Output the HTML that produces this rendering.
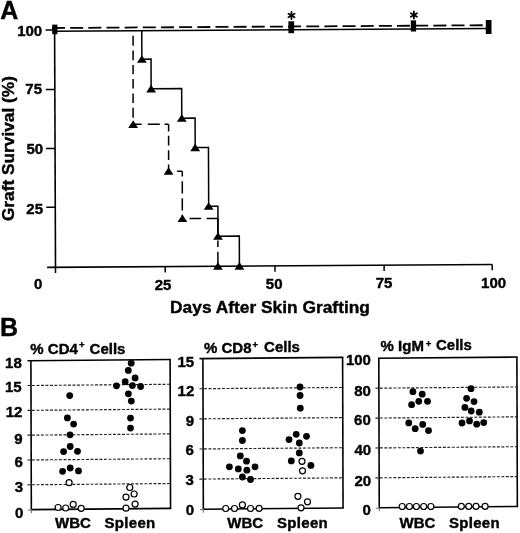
<!DOCTYPE html>
<html><head><meta charset="utf-8"><style>
html,body{margin:0;padding:0;background:#fff;}
svg{display:block;}
text{font-family:"Liberation Sans", sans-serif;font-weight:bold;fill:#000;stroke:#000;stroke-width:0.4px;}
line,polyline{stroke:#000;}
</style></head><body>
<svg width="520" height="533" viewBox="0 0 520 533" fill="#000">
<defs><filter id="soft" x="0" y="0" width="100%" height="100%" filterUnits="userSpaceOnUse"><feGaussianBlur stdDeviation="0.3"/></filter></defs>
<rect x="0" y="0" width="520" height="533" fill="#fff" stroke="none"/>
<g filter="url(#soft)">
<line x1="54.6" y1="30" x2="55.5" y2="267.3" stroke-width="1.6" />
<line x1="47.1" y1="267.35" x2="492.2" y2="264.51" stroke-width="1.6" />
<line x1="46.27" y1="207.31" x2="55.27" y2="207.25" stroke-width="1.5" />
<line x1="46.05" y1="148.56" x2="55.05" y2="148.5" stroke-width="1.5" />
<line x1="45.82" y1="89.46" x2="54.82" y2="89.4" stroke-width="1.5" />
<line x1="45.6" y1="30.06" x2="54.6" y2="30" stroke-width="1.5" />
<line x1="55.5" y1="267.3" x2="55.52" y2="273.1" stroke-width="1.5" />
<line x1="165.2" y1="266.6" x2="165.22" y2="272.4" stroke-width="1.5" />
<line x1="275" y1="265.9" x2="275.02" y2="271.7" stroke-width="1.5" />
<line x1="384.1" y1="265.2" x2="384.12" y2="271" stroke-width="1.5" />
<line x1="492.2" y1="264.51" x2="492.22" y2="270.31" stroke-width="1.5" />
<line x1="54.6" y1="31.2" x2="489.57" y2="28.42" stroke-width="1.5" />
<line x1="52" y1="28.02" x2="489.56" y2="25.22" stroke-width="1.8" stroke-dasharray="13 5.16"/>
<polyline points="141.75,30.64 141.86,59.14 151.03,59.08 151.14,88.78 181.65,88.59 181.77,118.14 195.07,118.05 195.19,147.6 208.45,147.52 208.67,206.27 217.9,206.21 218.01,236.23 239.31,236.1 239.42,266.12" fill="none" stroke-width="1.5" />
<path d="M141.86,55.14 L146.76,62.74 L136.96,62.74 Z"/>
<path d="M151.14,84.78 L156.04,92.38 L146.24,92.38 Z"/>
<path d="M181.77,114.14 L186.67,121.74 L176.87,121.74 Z"/>
<path d="M195.19,143.6 L200.09,151.2 L190.29,151.2 Z"/>
<path d="M208.67,202.27 L213.57,209.87 L203.77,209.87 Z"/>
<path d="M218.01,232.23 L222.91,239.83 L213.11,239.83 Z"/>
<path d="M239.42,262.12 L244.32,269.72 L234.52,269.72 Z"/>
<path d="M133.1,35.8V45.8M133.1,50.4V60.2M133.1,65V74.2M133.1,79V88.6M133.1,93.4V102.9M133.1,107.8V117.8M133.1,124.3H141.7M147.7,124.3H159.8M164.6,124.3H168.6M168.6,124.3V131.4M168.6,135.8V145.5M168.6,150.2V160M168.6,164.5V171.2M177.1,171.2H182.3M182.3,171.2V176.6M182.3,181.3V193.4M182.3,198.2V210.4M182.3,214.8V218.5M182.3,218.6H184M189.5,218.6H201.1M206.6,218.6H217.9M217.9,218.6V236M217.9,240.5V247M217.9,251.8V266.2" fill="none" stroke="#000" stroke-width="1.5"/>
<path d="M133.15,120.36 L138.05,127.96 L128.25,127.96 Z"/>
<path d="M168.57,167.27 L173.47,174.87 L163.67,174.87 Z"/>
<path d="M182.41,214.45 L187.31,222.05 L177.51,222.05 Z"/>
<path d="M217.95,262.26 L222.85,269.86 L213.05,269.86 Z"/>
<rect x="52.2" y="24.6" width="5.2" height="9.6"/>
<rect x="288.4" y="21.3" width="5.7" height="11.9"/>
<rect x="410.8" y="20.4" width="5.3" height="11.1"/>
<rect x="485.8" y="20" width="5.7" height="14"/>
<line x1="291.5" y1="12" x2="291.5" y2="19" stroke-width="1.8" stroke-linecap="round"/>
<line x1="288.47" y1="13.75" x2="294.53" y2="17.25" stroke-width="1.8" stroke-linecap="round"/>
<line x1="288.47" y1="17.25" x2="294.53" y2="13.75" stroke-width="1.8" stroke-linecap="round"/>
<line x1="413.9" y1="11.5" x2="413.9" y2="18.5" stroke-width="1.8" stroke-linecap="round"/>
<line x1="410.87" y1="13.25" x2="416.93" y2="16.75" stroke-width="1.8" stroke-linecap="round"/>
<line x1="410.87" y1="16.75" x2="416.93" y2="13.25" stroke-width="1.8" stroke-linecap="round"/>
<text x="0.3" y="18.73" font-size="25" >A</text>
<text x="17.2" y="35.95" font-size="15" >100</text>
<text x="25.35" y="94.47" font-size="15" >75</text>
<text x="26.45" y="154.27" font-size="15" >50</text>
<text x="26.35" y="213.52" font-size="15" >25</text>
<text x="34.02" y="288.57" font-size="15" >0</text>
<text x="154.78" y="289.57" font-size="15" >25</text>
<text x="265.82" y="289" font-size="15" >50</text>
<text x="375.68" y="288.23" font-size="15" >75</text>
<text x="481.1" y="287.52" font-size="15" >100</text>
<text x="170.1" y="312.9" font-size="17.35">Days After Skin Grafting</text>
<text transform="translate(13.9,221.1) rotate(-90)" font-size="17.3">Graft Survival (%)</text>
<line x1="30.9" y1="360.7" x2="31.35" y2="509.6" stroke-width="1.6" />
<line x1="170.1" y1="359.45" x2="170.54" y2="508.35" stroke-width="1.6" />
<line x1="27.5" y1="360.73" x2="170.8" y2="359.45" stroke-width="1.6" />
<line x1="31.35" y1="509.6" x2="171.24" y2="508.35" stroke-width="1.6" />
<line x1="27.95" y1="510.13" x2="31.35" y2="510.1" stroke-width="1.0" style="stroke:#666"/>
<line x1="31.35" y1="509.6" x2="31.36" y2="513.1" stroke-width="1.0" style="stroke:#666"/>
<line x1="27.5" y1="385.55" x2="170.17" y2="384.26" stroke-width="1.15" style="stroke:#222" stroke-dasharray="2.9 1.6"/>
<line x1="27.5" y1="410.36" x2="170.25" y2="409.08" stroke-width="1.15" style="stroke:#222" stroke-dasharray="2.9 1.6"/>
<line x1="27.5" y1="435.18" x2="170.32" y2="433.9" stroke-width="1.15" style="stroke:#222" stroke-dasharray="2.9 1.6"/>
<line x1="27.5" y1="460" x2="170.39" y2="458.71" stroke-width="1.15" style="stroke:#222" stroke-dasharray="2.9 1.6"/>
<line x1="27.5" y1="484.81" x2="170.47" y2="483.53" stroke-width="1.15" style="stroke:#222" stroke-dasharray="2.9 1.6"/>
<line x1="202.9" y1="358.6" x2="203.35" y2="509.2" stroke-width="1.6" />
<line x1="342.6" y1="357.34" x2="343.05" y2="507.94" stroke-width="1.6" />
<line x1="199.5" y1="358.63" x2="343.3" y2="357.34" stroke-width="1.6" />
<line x1="203.35" y1="509.2" x2="343.75" y2="507.94" stroke-width="1.6" />
<line x1="199.95" y1="509.73" x2="203.35" y2="509.7" stroke-width="1.0" style="stroke:#666"/>
<line x1="203.35" y1="509.2" x2="203.36" y2="512.7" stroke-width="1.0" style="stroke:#666"/>
<line x1="199.5" y1="388.75" x2="342.69" y2="387.46" stroke-width="1.15" style="stroke:#222" stroke-dasharray="2.9 1.6"/>
<line x1="199.5" y1="418.87" x2="342.78" y2="417.58" stroke-width="1.15" style="stroke:#222" stroke-dasharray="2.9 1.6"/>
<line x1="199.5" y1="448.99" x2="342.87" y2="447.7" stroke-width="1.15" style="stroke:#222" stroke-dasharray="2.9 1.6"/>
<line x1="199.5" y1="479.11" x2="342.96" y2="477.82" stroke-width="1.15" style="stroke:#222" stroke-dasharray="2.9 1.6"/>
<line x1="378.8" y1="358.3" x2="379.25" y2="507.7" stroke-width="1.6" />
<line x1="516.9" y1="357.06" x2="517.34" y2="506.46" stroke-width="1.6" />
<line x1="378" y1="358.31" x2="517.6" y2="357.06" stroke-width="1.6" />
<line x1="379.25" y1="507.7" x2="518.04" y2="506.46" stroke-width="1.6" />
<line x1="375.85" y1="508.23" x2="379.25" y2="508.2" stroke-width="1.0" style="stroke:#666"/>
<line x1="379.25" y1="507.7" x2="379.26" y2="511.2" stroke-width="1.0" style="stroke:#666"/>
<line x1="375.4" y1="388.21" x2="516.99" y2="386.94" stroke-width="1.15" style="stroke:#222" stroke-dasharray="2.9 1.6"/>
<line x1="375.4" y1="418.09" x2="517.08" y2="416.82" stroke-width="1.15" style="stroke:#222" stroke-dasharray="2.9 1.6"/>
<line x1="375.4" y1="447.97" x2="517.17" y2="446.69" stroke-width="1.15" style="stroke:#222" stroke-dasharray="2.9 1.6"/>
<line x1="375.4" y1="477.85" x2="517.25" y2="476.57" stroke-width="1.15" style="stroke:#222" stroke-dasharray="2.9 1.6"/>
<circle cx="69.7" cy="395.6" r="3.4"/>
<circle cx="67.4" cy="417.9" r="3.4"/>
<circle cx="73.6" cy="424.1" r="3.4"/>
<circle cx="70" cy="434.8" r="3.4"/>
<circle cx="70.2" cy="446.5" r="3.4"/>
<circle cx="63.6" cy="451.6" r="3.4"/>
<circle cx="77.5" cy="451.3" r="3.4"/>
<circle cx="70.2" cy="468" r="3.4"/>
<circle cx="62.6" cy="471.3" r="3.4"/>
<circle cx="78.5" cy="470.9" r="3.4"/>
<circle cx="131.2" cy="363.2" r="3.4"/>
<circle cx="128.3" cy="370.4" r="3.4"/>
<circle cx="135.1" cy="377.9" r="3.4"/>
<circle cx="125.2" cy="381.7" r="3.4"/>
<circle cx="116.5" cy="385.8" r="3.4"/>
<circle cx="132.4" cy="385.6" r="3.4"/>
<circle cx="140.6" cy="386.5" r="3.4"/>
<circle cx="128.4" cy="393.8" r="3.4"/>
<circle cx="131.3" cy="401.1" r="3.4"/>
<circle cx="130.5" cy="418.1" r="3.4"/>
<circle cx="130.5" cy="428.1" r="3.4"/>
<circle cx="242.4" cy="430.6" r="3.4"/>
<circle cx="242.4" cy="440.5" r="3.4"/>
<circle cx="240.3" cy="455.9" r="3.4"/>
<circle cx="246.5" cy="461.2" r="3.4"/>
<circle cx="229.4" cy="466.8" r="3.4"/>
<circle cx="255" cy="466.8" r="3.4"/>
<circle cx="238.3" cy="468.9" r="3.4"/>
<circle cx="246.9" cy="470.2" r="3.4"/>
<circle cx="242.4" cy="477" r="3.4"/>
<circle cx="250.5" cy="479.5" r="3.4"/>
<circle cx="300" cy="387" r="3.4"/>
<circle cx="300.1" cy="395.5" r="3.4"/>
<circle cx="300.3" cy="408.2" r="3.4"/>
<circle cx="296.2" cy="434.3" r="3.4"/>
<circle cx="306.5" cy="436.3" r="3.4"/>
<circle cx="289" cy="439.6" r="3.4"/>
<circle cx="299.3" cy="443" r="3.4"/>
<circle cx="299.3" cy="452.9" r="3.4"/>
<circle cx="291.3" cy="460.9" r="3.4"/>
<circle cx="310.9" cy="465.4" r="3.4"/>
<circle cx="412.9" cy="391.7" r="3.4"/>
<circle cx="422.2" cy="394.2" r="3.4"/>
<circle cx="418.8" cy="401.3" r="3.4"/>
<circle cx="427.5" cy="401.3" r="3.4"/>
<circle cx="411.6" cy="404.7" r="3.4"/>
<circle cx="408.75" cy="422.9" r="3.4"/>
<circle cx="422.7" cy="424.4" r="3.4"/>
<circle cx="415.2" cy="428.7" r="3.4"/>
<circle cx="428.5" cy="430.6" r="3.4"/>
<circle cx="420.5" cy="451.1" r="3.4"/>
<circle cx="471" cy="388.7" r="3.4"/>
<circle cx="466.6" cy="398.3" r="3.4"/>
<circle cx="474" cy="401.6" r="3.4"/>
<circle cx="464.9" cy="407.4" r="3.4"/>
<circle cx="471.2" cy="411" r="3.4"/>
<circle cx="479.3" cy="412.2" r="3.4"/>
<circle cx="462" cy="423" r="3.4"/>
<circle cx="469.5" cy="420.9" r="3.4"/>
<circle cx="476.7" cy="424.2" r="3.4"/>
<circle cx="483.7" cy="422.6" r="3.4"/>
<circle cx="69.1" cy="482.7" r="3.0" fill="#fff" stroke="#000" stroke-width="1.2"/>
<circle cx="58.1" cy="507.5" r="3.0" fill="#fff" stroke="#000" stroke-width="1.2"/>
<circle cx="65.7" cy="508" r="3.0" fill="#fff" stroke="#000" stroke-width="1.2"/>
<circle cx="73.2" cy="504.4" r="3.0" fill="#fff" stroke="#000" stroke-width="1.2"/>
<circle cx="81.2" cy="508.3" r="3.0" fill="#fff" stroke="#000" stroke-width="1.2"/>
<circle cx="129.8" cy="487.5" r="3.0" fill="#fff" stroke="#000" stroke-width="1.2"/>
<circle cx="134.1" cy="494" r="3.0" fill="#fff" stroke="#000" stroke-width="1.2"/>
<circle cx="126" cy="497.1" r="3.0" fill="#fff" stroke="#000" stroke-width="1.2"/>
<circle cx="135.1" cy="504.1" r="3.0" fill="#fff" stroke="#000" stroke-width="1.2"/>
<circle cx="126" cy="508.2" r="3.0" fill="#fff" stroke="#000" stroke-width="1.2"/>
<circle cx="225.7" cy="508.5" r="3.0" fill="#fff" stroke="#000" stroke-width="1.2"/>
<circle cx="234.5" cy="508.5" r="3.0" fill="#fff" stroke="#000" stroke-width="1.2"/>
<circle cx="242.4" cy="504.9" r="3.0" fill="#fff" stroke="#000" stroke-width="1.2"/>
<circle cx="250.5" cy="508.5" r="3.0" fill="#fff" stroke="#000" stroke-width="1.2"/>
<circle cx="259.1" cy="508.3" r="3.0" fill="#fff" stroke="#000" stroke-width="1.2"/>
<circle cx="302" cy="461.3" r="3.0" fill="#fff" stroke="#000" stroke-width="1.2"/>
<circle cx="302.5" cy="470.8" r="3.0" fill="#fff" stroke="#000" stroke-width="1.2"/>
<circle cx="297.9" cy="496.3" r="3.0" fill="#fff" stroke="#000" stroke-width="1.2"/>
<circle cx="307.5" cy="501.8" r="3.0" fill="#fff" stroke="#000" stroke-width="1.2"/>
<circle cx="301" cy="507.8" r="3.0" fill="#fff" stroke="#000" stroke-width="1.2"/>
<circle cx="402.2" cy="506.5" r="3.0" fill="#fff" stroke="#000" stroke-width="1.2"/>
<circle cx="409.4" cy="506.5" r="3.0" fill="#fff" stroke="#000" stroke-width="1.2"/>
<circle cx="416.4" cy="506.5" r="3.0" fill="#fff" stroke="#000" stroke-width="1.2"/>
<circle cx="423.7" cy="506.5" r="3.0" fill="#fff" stroke="#000" stroke-width="1.2"/>
<circle cx="430.9" cy="506.5" r="3.0" fill="#fff" stroke="#000" stroke-width="1.2"/>
<circle cx="461.3" cy="506.3" r="3.0" fill="#fff" stroke="#000" stroke-width="1.2"/>
<circle cx="468.75" cy="506.3" r="3.0" fill="#fff" stroke="#000" stroke-width="1.2"/>
<circle cx="476" cy="506.3" r="3.0" fill="#fff" stroke="#000" stroke-width="1.2"/>
<circle cx="485.1" cy="506.3" r="3.0" fill="#fff" stroke="#000" stroke-width="1.2"/>
<text x="-0.1" y="336.3" font-size="25" >B</text>
<text x="30.35" y="353.6" font-size="15" >% CD4</text>
<text x="79" y="348.3" font-size="9.5" >+</text>
<text x="89.55" y="353.52" font-size="15" >Cells</text>
<text transform="translate(204,352.9) scale(1,1.0)" x="0" y="0" font-size="15" >% CD8</text>
<text x="252.5" y="348.2" font-size="9.5" >+</text>
<text x="264.1" y="352.4" font-size="15" >Cells</text>
<text transform="translate(380.6,351.1) scale(1,1.0)" x="0" y="0" font-size="15" >% IgM</text>
<text x="425.8" y="346.6" font-size="9.5" >+</text>
<text x="435.98" y="349.77" font-size="15" >Cells</text>
<text x="5.1" y="367.5" font-size="15" >18</text>
<text x="4.97" y="392" font-size="15" >15</text>
<text x="5.65" y="416.95" font-size="15" >12</text>
<text x="14.35" y="443.55" font-size="15" >9</text>
<text x="14.5" y="466.5" font-size="15" >6</text>
<text x="14.8" y="492.15" font-size="15" >3</text>
<text x="14.95" y="517.55" font-size="15" >0</text>
<text x="177.5" y="366.65" font-size="15" >15</text>
<text x="177.6" y="396.45" font-size="15" >12</text>
<text x="185.85" y="425.5" font-size="15" >9</text>
<text x="185.6" y="455.45" font-size="15" >6</text>
<text x="185.58" y="484.5" font-size="15" >3</text>
<text x="185.67" y="514.65" font-size="15" >0</text>
<text x="345.9" y="365.3" font-size="15" >100</text>
<text x="354.15" y="395.5" font-size="15" >80</text>
<text x="354.1" y="425.3" font-size="15" >60</text>
<text x="354.45" y="455.45" font-size="15" >40</text>
<text x="354.43" y="485.88" font-size="15" >20</text>
<text x="362.45" y="515.45" font-size="15" >0</text>
<text x="55.1" y="528.03" font-size="15" >WBC</text>
<text transform="translate(104.5,528) scale(1,1.0)" x="0" y="0" font-size="15" letter-spacing="0.3">Spleen</text>
<text x="227.3" y="528.38" font-size="15" >WBC</text>
<text transform="translate(277,528.3) scale(1,1.0)" x="0" y="0" font-size="15" letter-spacing="0.3">Spleen</text>
<text x="399.5" y="528.08" font-size="15" >WBC</text>
<text transform="translate(448.9,528) scale(1,1.0)" x="0" y="0" font-size="15" letter-spacing="0.3">Spleen</text>
</g>
</svg>
</body></html>
